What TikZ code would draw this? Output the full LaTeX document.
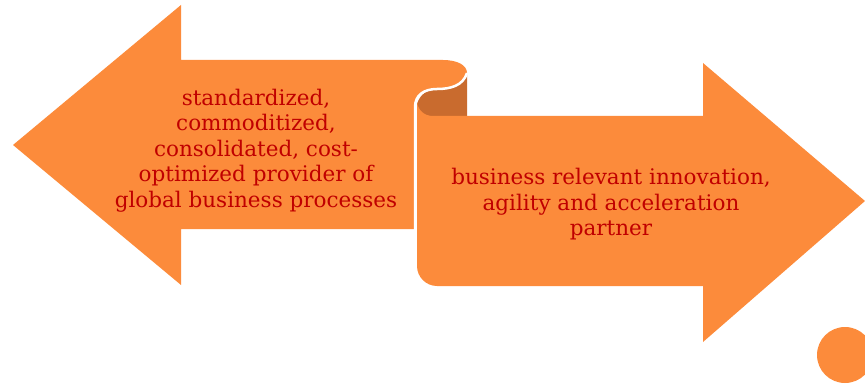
\documentclass[tikz,border=0pt]{standalone}
\usepackage{fontspec}
\setmainfont{DejaVu Serif}
\definecolor{lightor}{HTML}{FC8B3B}
\definecolor{darkor}{HTML}{C96B2E}
\definecolor{textred}{HTML}{C00000}
\tikzset{
  ribbon/.style={fill=lightor, draw=none},
  ribbonback/.style={fill=darkor, draw=none},
  label/.style={text=textred, align=center, font=\fontsize{21.5}{25.5}\selectfont, inner sep=0pt},
  edge/.style={draw=white, line width=2.5pt}
}
\begin{document}
\begin{tikzpicture}[x=1pt,y=-1pt]
\useasboundingbox (0,0) rectangle (865,385);
\clip (0,0) rectangle (865,385);
% left arrow
\path[ribbon] (13,145) -- (181,5) -- (181,60) -- (443,60)
  .. controls (457,60) and (467,65) .. (467,73)
  .. controls (463,86) and (450,89) .. (437,89)
  .. controls (424,89) and (415,95) .. (415,107)
  -- (415,229) -- (181,229) -- (181,285) -- cycle;
% back of the roll
\path[ribbonback] (467,73) -- (467,116) -- (417,116) -- (417,104)
  .. controls (420,94) and (428,89) .. (437,89)
  .. controls (450,89) and (463,86) .. (467,73) -- cycle;
% right arrow
\path[ribbon] (703,63) -- (865,201) -- (703,342) -- (703,286) -- (437,286)
  .. controls (426,286) and (417,277) .. (417,266)
  -- (417,102)
  .. controls (418,110) and (424,116) .. (433,116)
  -- (703,116) -- cycle;
% white edge of the roll
\draw[edge] (467,73) .. controls (463,86) and (450,89) .. (437,89)
  .. controls (424,89) and (415,95) .. (415,107) -- (415,231);
% circle
\fill[lightor] (845,355) circle (28);
% texts
\node[label] (lt) at (256,150.5) {standardized,\\commoditized,\\consolidated, cost-\\optimized provider of\\global business processes};
\node[label] (rt) at (611,204.5) {business relevant innovation,\\agility and acceleration\\partner};
\end{tikzpicture}
\end{document}
